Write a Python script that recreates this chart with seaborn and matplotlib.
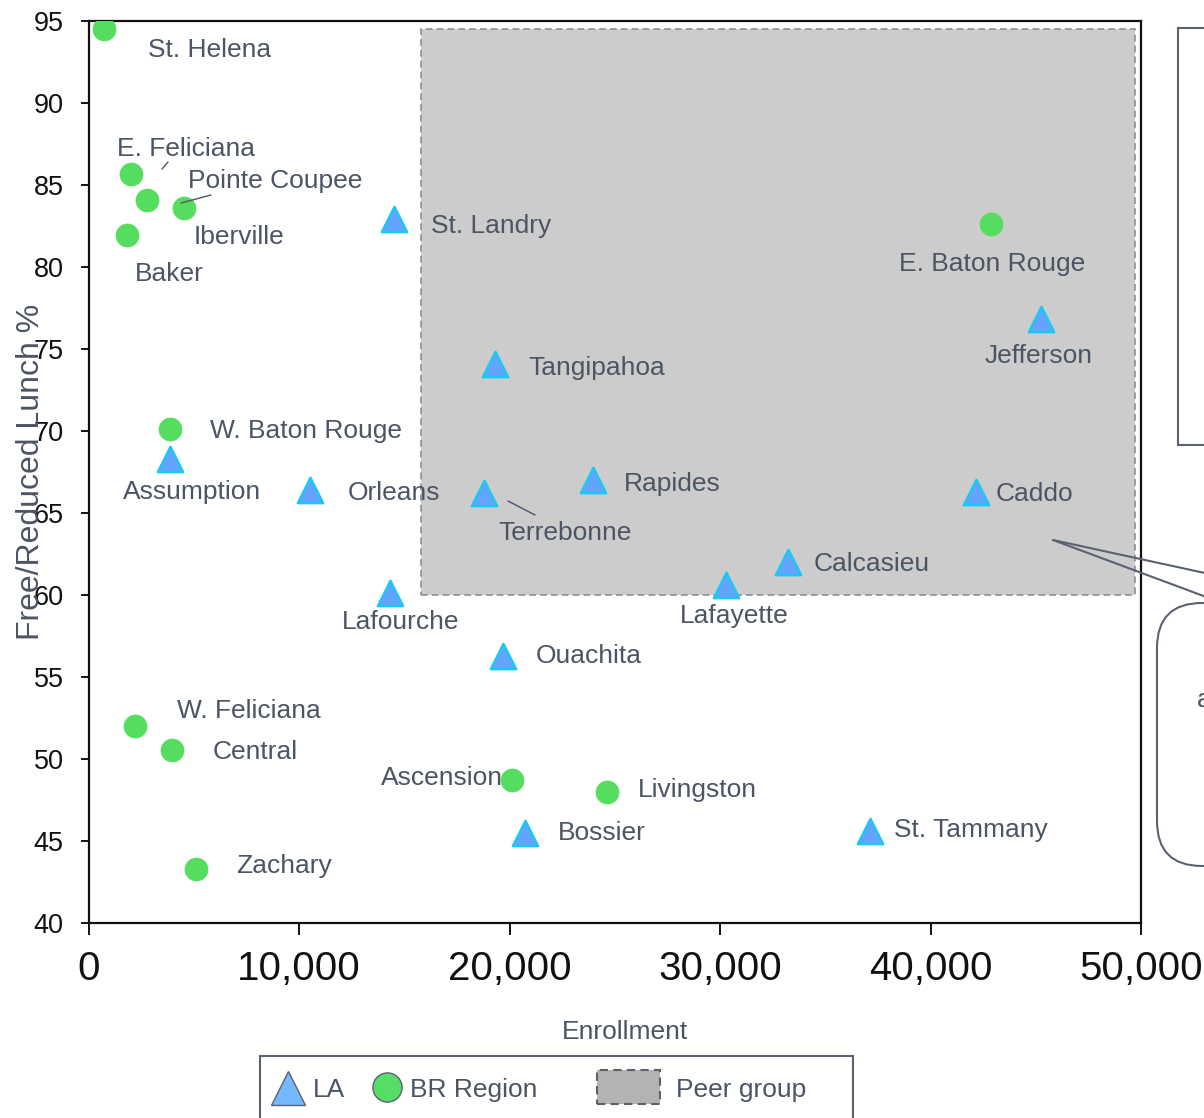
import numpy as np
import pandas as pd
import matplotlib
matplotlib.use("Agg")
import matplotlib.pyplot as plt
import seaborn as sns
from matplotlib.patches import Rectangle, FancyBboxPatch
from matplotlib.lines import Line2D
from matplotlib.transforms import IdentityTransform

# ---------------- data ----------------
la_names = ["St. Landry", "Jefferson", "Tangipahoa", "Assumption", "Orleans",
            "Terrebonne", "Rapides", "Caddo", "Calcasieu", "Lafayette",
            "Lafourche", "Ouachita", "Bossier", "St. Tammany"]
la_enroll = [14500, 45250, 19300, 3850, 10500, 18770, 23950, 42160, 33220,
             30280, 14300, 19680, 20720, 37120]
la_frl = [82.9, 76.8, 74.1, 68.3, 66.4, 66.2, 67.0, 66.3, 62.0, 60.6, 60.1,
          56.3, 45.5, 45.6]

br_names = ["St. Helena", "E. Feliciana", "Pointe Coupee", "Iberville", "Baker",
            "E. Baton Rouge", "W. Baton Rouge", "W. Feliciana", "Central",
            "Ascension", "Livingston", "Zachary"]
br_enroll = [760, 2040, 2800, 4515, 1850, 42870, 3850, 2230, 3990, 20100,
             24620, 5090]
br_frl = [94.5, 85.7, 84.1, 83.6, 81.95, 82.6, 70.1, 52.0, 50.55, 48.7, 48.0,
          43.3]

peer_x = [15800, 49700]
peer_y = [60.0, 94.5]

x_ticks = [0, 10000, 20000, 30000, 40000, 50000]
x_tick_labels = ["0", "10,000", "20,000", "30,000", "40,000", "50,000"]
y_ticks = [40, 45, 50, 55, 60, 65, 70, 75, 80, 85, 90, 95]

series_names = ["LA", "BR Region", "Peer group"]

df = pd.DataFrame({
    "name": la_names + br_names,
    "Enrollment": la_enroll + br_enroll,
    "FRL": la_frl + br_frl,
    "group": [series_names[0]] * len(la_names) + [series_names[1]] * len(br_names),
})

# ---------------- style ----------------
sns.set_style("white")
plt.rcParams["font.family"] = ["Liberation Sans", "DejaVu Sans"]
TXT = "#4b5563"
EDGE = "#5a6270"

W, H = 1204, 1118
fig = plt.figure(figsize=(W / 100, H / 100), dpi=100)
L, R, T, B = 88.5, 1141, 21, 923
ax = fig.add_axes([L / W, 1 - B / H, (R - L) / W, (B - T) / H])

# peer group region
ax.add_patch(Rectangle((peer_x[0], peer_y[0]), peer_x[1] - peer_x[0],
                       peer_y[1] - peer_y[0], facecolor="#cccccc",
                       edgecolor="#8a9099", linestyle=(0, (4, 2.5)),
                       linewidth=1.2, zorder=0))

la_df = df[df.group == "LA"]
br_df = df[df.group == "BR Region"]
sns.scatterplot(data=br_df, x="Enrollment", y="FRL", marker="o", s=275,
                color="#55dd5f", edgecolor="#55dd5f", linewidth=0.5, ax=ax,
                zorder=3, legend=False)
sns.scatterplot(data=la_df, x="Enrollment", y="FRL", marker="^", s=330,
                color="#66a3ff", edgecolor="#19c8f5", linewidth=1.8, ax=ax,
                zorder=3, legend=False)

ax.set_xlim(0, 50000)
ax.set_ylim(40, 95)
ax.set_xticks(x_ticks)
ax.set_xticklabels(x_tick_labels, fontsize=29, color="#111111")
ax.set_yticks(y_ticks)
ax.set_yticklabels([str(v) for v in y_ticks], fontsize=19.5, color="#111111")
ax.tick_params(axis="x", direction="out", length=8.6, width=1.4, pad=11,
               bottom=True, color="#111111")
ax.tick_params(axis="y", direction="out", length=6, width=1.4, pad=12,
               left=True, color="#111111")
for sp in ax.spines.values():
    sp.set_visible(True)
    sp.set_color("#111111")
    sp.set_linewidth(1.6)

ax.set_xlabel("Enrollment", fontsize=19, color=TXT)
ax.xaxis.set_label_coords(0.5095, -0.108)
ax.set_ylabel("Free/Reduced Lunch %", fontsize=23, color=TXT)
ax.yaxis.set_label_coords(-0.040, 0.5)

# ---------------- point labels ----------------
# offsets in pixels: (dx right, dy down, horizontal alignment)
label_pos = {
    "St. Helena": (44, 21, "left"), "E. Feliciana": (-14, -25, "left"),
    "Pointe Coupee": (41, -19, "left"), "Iberville": (10, 29, "left"),
    "Baker": (7, 39, "left"), "E. Baton Rouge": (1, 40, "center"),
    "Jefferson": (-2, 37, "center"), "St. Landry": (37, 7, "left"),
    "Tangipahoa": (34, 4, "left"), "W. Baton Rouge": (40, 2, "left"),
    "Assumption": (22, 33, "center"), "Orleans": (38, 3, "left"),
    "Terrebonne": (15, 40, "left"), "Rapides": (31, 4, "left"),
    "Caddo": (20, 2, "left"), "Calcasieu": (26, 2, "left"),
    "Lafayette": (8, 31, "center"), "Lafourche": (11, 29, "center"),
    "Ouachita": (33, 0, "left"), "W. Feliciana": (42, -15, "left"),
    "Central": (40, 2, "left"), "Ascension": (-9, -2, "right"),
    "Livingston": (31, -2, "left"), "Bossier": (33, 0, "left"),
    "St. Tammany": (24, -1, "left"), "Zachary": (40, -3, "left"),
}
for _, r in df.iterrows():
    dx, dy, ha = label_pos[r["name"]]
    ax.annotate(r["name"], (r["Enrollment"], r["FRL"]), xytext=(dx, -dy),
                textcoords="offset pixels", ha=ha, va="center", fontsize=19,
                color=TXT, zorder=4)


def fpx(x, y):
    return x / W, 1 - y / H


# leader lines
for (x1, y1), (x2, y2) in [((162, 169), (168, 162)), ((181, 203), (211, 195)),
                           ((508, 501), (535, 515))]:
    a, b = fpx(x1, y1)
    c, d = fpx(x2, y2)
    fig.add_artist(Line2D([a, c], [b, d], transform=fig.transFigure,
                          color=TXT, lw=1.0))

# ---------------- right-side cropped elements ----------------
fig.add_artist(Rectangle((1178, H - 445), 80, 417, transform=IdentityTransform(),
                         facecolor="white", edgecolor=EDGE, lw=1.5))
fig.add_artist(FancyBboxPatch((1157, H - 866), 120, 263,
                              boxstyle="round,pad=0,rounding_size=45",
                              transform=IdentityTransform(),
                              facecolor="white", edgecolor=EDGE, lw=1.5))
for yend in (585, 617):
    a, b = fpx(1053, 540)
    c, d = fpx(1260, yend)
    fig.add_artist(Line2D([a, c], [b, d], transform=fig.transFigure,
                          color=EDGE, lw=1.5))
fig.text(1197 / W, 1 - 700 / H, "a", fontsize=19, color=TXT, va="center")

# ---------------- legend (manual, cropped at bottom) ----------------
fig.add_artist(Rectangle((260, H - 1140), 593, 84, transform=IdentityTransform(),
                         facecolor="white", edgecolor=EDGE, lw=1.5))
a, b = fpx(288, 1088)
fig.add_artist(Line2D([a], [b], transform=fig.transFigure, marker="^",
                      markersize=25, markerfacecolor="#74b9ff",
                      markeredgecolor=EDGE, markeredgewidth=1.0, linestyle=""))
fig.text(313 / W, 1 - 1090 / H, series_names[0], fontsize=19, color=TXT, va="center")
a, b = fpx(387, 1087)
fig.add_artist(Line2D([a], [b], transform=fig.transFigure, marker="o",
                      markersize=21, markerfacecolor="#55dd66",
                      markeredgecolor=EDGE, markeredgewidth=1.0, linestyle=""))
fig.text(410 / W, 1 - 1090 / H, series_names[1], fontsize=19, color=TXT, va="center")
fig.add_artist(Rectangle((597, H - 1104), 63, 34, transform=IdentityTransform(),
                         facecolor="#b3b3b3", edgecolor=EDGE, lw=1.5,
                         linestyle=(0, (4, 2.5))))
fig.text(676 / W, 1 - 1090 / H, series_names[2], fontsize=19, color=TXT, va="center")

fig.savefig("out.png", dpi=100)
